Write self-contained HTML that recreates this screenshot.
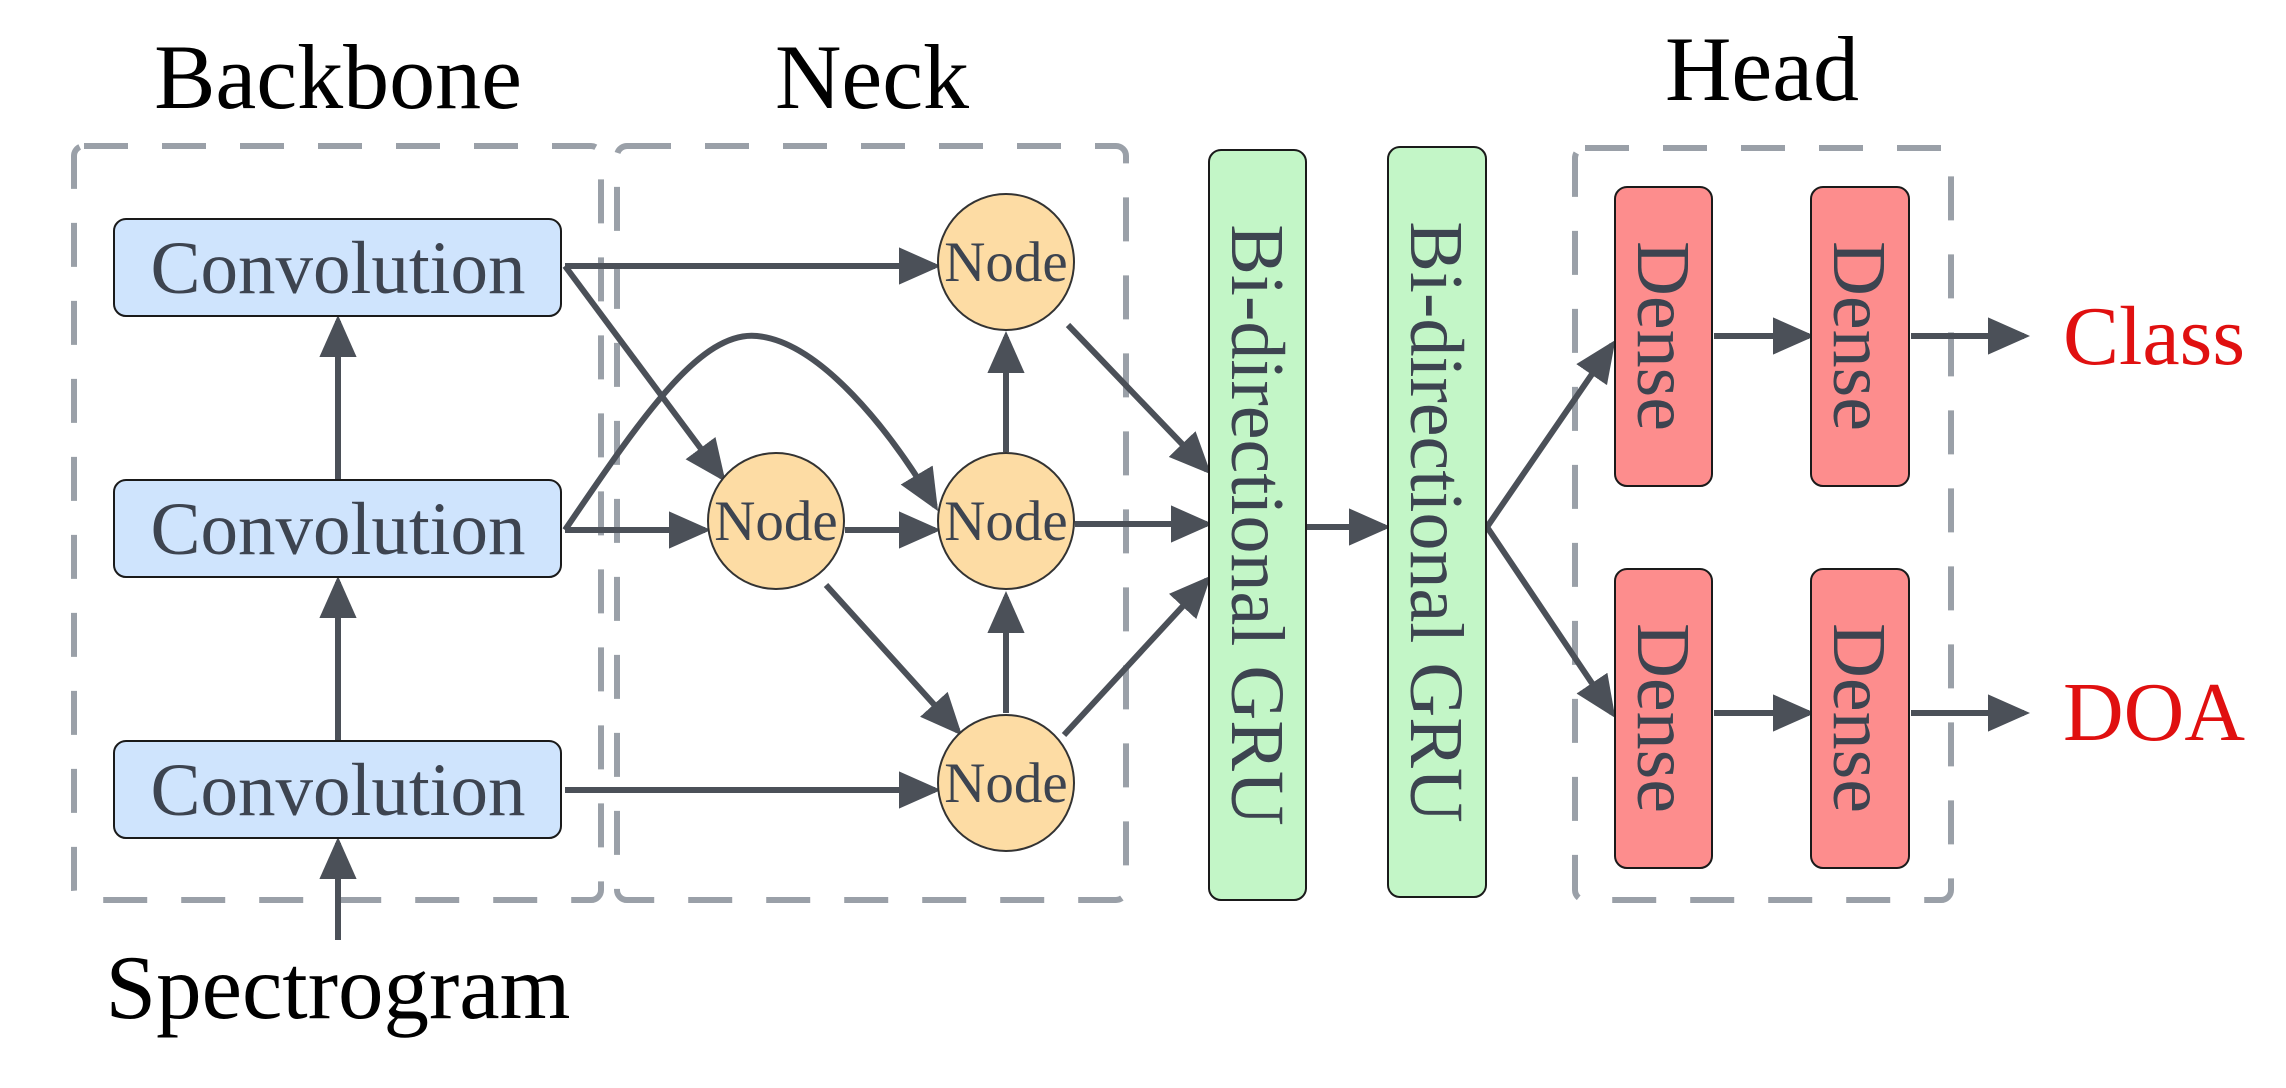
<!DOCTYPE html>
<html><head><meta charset="utf-8"><style>
html,body{margin:0;padding:0;background:#fff;}
svg{display:block;}
text{font-family:"Liberation Serif",serif;}
</style></head><body>
<svg width="2286" height="1088" viewBox="0 0 2286 1088" xmlns="http://www.w3.org/2000/svg">
<defs>
<marker id="a" markerWidth="7" markerHeight="7" refX="6" refY="3.5" orient="auto" markerUnits="strokeWidth">
<path d="M0,0.4 L7,3.5 L0,6.6 Z" fill="#4b5058"/></marker>
</defs>
<!-- titles -->
<text x="338" y="108" font-size="92" text-anchor="middle" fill="#000">Backbone</text>
<text x="872" y="108" font-size="92" text-anchor="middle" fill="#000">Neck</text>
<text x="1762" y="100" font-size="92" text-anchor="middle" fill="#000">Head</text>
<text x="338" y="1018" font-size="91" text-anchor="middle" fill="#000">Spectrogram</text>
<!-- dashed groups -->
<g fill="none" stroke="#9aa0a8" stroke-width="6" stroke-dasharray="44,34">
<rect x="74" y="146" width="527" height="754" rx="10"/>
<rect x="617" y="146" width="509" height="754" rx="10"/>
<rect x="1575" y="148" width="376" height="752" rx="10"/>
</g>
<!-- connectors -->
<g stroke="#4b5058" stroke-width="6" fill="none" marker-end="url(#a)">
<line x1="338" y1="940" x2="338" y2="843"/>
<line x1="338" y1="741" x2="338" y2="582"/>
<line x1="338" y1="480" x2="338" y2="321"/>
<line x1="565" y1="266" x2="935" y2="266"/>
<line x1="565" y1="266" x2="722" y2="477"/>
<path d="M565,530 C640,420 700,330 757,336 C820,342 890,430 935,506"/>
<line x1="565" y1="530" x2="705" y2="530"/>
<line x1="845" y1="530" x2="935" y2="530"/>
<line x1="1006" y1="452" x2="1006" y2="337"/>
<line x1="1006" y1="713" x2="1006" y2="597"/>
<line x1="826" y1="585" x2="958" y2="731"/>
<line x1="565" y1="790" x2="935" y2="790"/>
<line x1="1068" y1="325" x2="1207" y2="470"/>
<line x1="1075" y1="524" x2="1207" y2="524"/>
<line x1="1064" y1="735" x2="1207" y2="580"/>
<line x1="1307" y1="527" x2="1385" y2="527"/>
<line x1="1487" y1="527" x2="1612" y2="345"/>
<line x1="1487" y1="527" x2="1612" y2="713"/>
<line x1="1714" y1="336" x2="1809" y2="336"/>
<line x1="1714" y1="713" x2="1809" y2="713"/>
<line x1="1911" y1="336" x2="2024" y2="336"/>
<line x1="1911" y1="713" x2="2024" y2="713"/>
</g>
<!-- convolution -->
<g stroke="#1a1a1a" stroke-width="2" fill="#cfe4fd">
<rect x="114" y="219" width="447" height="97" rx="12"/>
<rect x="114" y="480" width="447" height="97" rx="12"/>
<rect x="114" y="741" width="447" height="97" rx="12"/>
</g>
<g font-size="75" fill="#3d4450" text-anchor="middle">
<text x="338" y="293">Convolution</text>
<text x="338" y="554">Convolution</text>
<text x="338" y="815">Convolution</text>
</g>
<!-- nodes -->
<g stroke="#333" stroke-width="2" fill="#fddca4">
<circle cx="1006" cy="262" r="68"/>
<circle cx="776" cy="521" r="68"/>
<circle cx="1006" cy="521" r="68"/>
<circle cx="1006" cy="783" r="68"/>
</g>
<g font-size="57" fill="#3d4450" text-anchor="middle">
<text x="1006" y="281">Node</text>
<text x="776" y="540">Node</text>
<text x="1006" y="540">Node</text>
<text x="1006" y="802">Node</text>
</g>
<!-- GRU -->
<g stroke="#1a1a1a" stroke-width="2" fill="#c3f6c7">
<rect x="1209" y="150" width="97" height="750" rx="12"/>
<rect x="1388" y="147" width="98" height="750" rx="12"/>
</g>
<g font-size="76" fill="#3d4450" text-anchor="middle">
<text transform="translate(1232,525) rotate(90)">Bi-directional GRU</text>
<text transform="translate(1411,522) rotate(90)">Bi-directional GRU</text>
</g>
<!-- Dense -->
<g stroke="#1a1a1a" stroke-width="2" fill="#fd8d8d">
<rect x="1615" y="187" width="97" height="299" rx="12"/>
<rect x="1811" y="187" width="98" height="299" rx="12"/>
<rect x="1615" y="569" width="97" height="299" rx="12"/>
<rect x="1811" y="569" width="98" height="299" rx="12"/>
</g>
<g font-size="76" fill="#3d4450" text-anchor="middle">
<text transform="translate(1638,336) rotate(90)">Dense</text>
<text transform="translate(1834,336) rotate(90)">Dense</text>
<text transform="translate(1638,718) rotate(90)">Dense</text>
<text transform="translate(1834,718) rotate(90)">Dense</text>
</g>
<g font-size="84" fill="#e01010">
<text x="2063" y="364">Class</text>
<text x="2063" y="740">DOA</text>
</g>
</svg>
</body></html>
